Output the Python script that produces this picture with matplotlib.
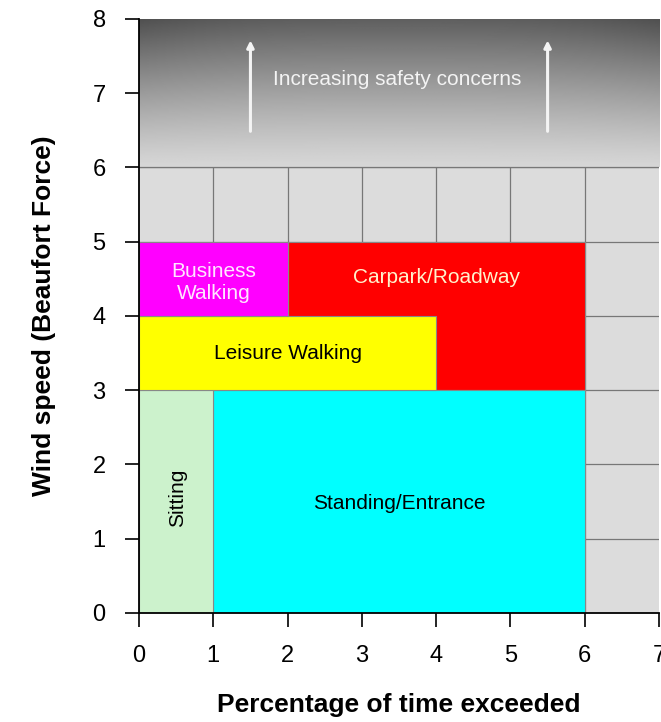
import matplotlib
matplotlib.use('Agg')
import matplotlib.pyplot as plt
import matplotlib.patches as patches
import numpy as np

plt.rcParams['font.family'] = ['Liberation Sans', 'DejaVu Sans']

# Comfort zones
zone_names = ['Carpark/Roadway', 'Standing/Entrance', 'Sitting', 'Leisure Walking', 'Business\nWalking']
zone_x0 = [2, 1, 0, 0, 0]
zone_x1 = [6, 6, 1, 4, 2]
zone_y0 = [3, 0, 0, 3, 4]
zone_y1 = [5, 3, 3, 4, 5]
zone_colors = ['#ff0000', '#00ffff', '#ccf2cc', '#ffff00', '#ff00ff']
label_colors = ['#fff2cc', 'black', 'black', 'black', '#ffe6ff']
label_x = [4.0, 3.5, 0.52, 2.0, 1.0]
label_y = [4.52, 1.48, 1.55, 3.5, 4.45]
label_rot = [0, 0, 90, 0, 0]

xticks = [0, 1, 2, 3, 4, 5, 6, 7]
yticks = [0, 1, 2, 3, 4, 5, 6, 7, 8]

fig = plt.figure(figsize=(6.61, 7.22), dpi=100)
ax = fig.add_axes([0.2103, 0.151, 0.7867, 0.8227])
ax.set_xlim(0, 7)
ax.set_ylim(0, 8)

# light grey cell background with grid
ax.set_facecolor('#dcdcdc')
for v in range(1, 7):
    ax.axvline(v, color='#777777', lw=0.9, zorder=0.5)
for h in range(1, 8):
    ax.axhline(h, color='#777777', lw=0.9, zorder=0.5)

# gradient band for high wind speeds (dark at top)
gy = np.linspace(0, 1, 200)[:, None]
gx = np.linspace(-1, 1, 300)[None, :]
grad = 0.84 - 0.47 * gy ** 1.2 - 0.06 * np.abs(gx) ** 3 * gy
ax.imshow(grad, extent=[0, 7, 6, 8], origin='lower', cmap='gray', vmin=0, vmax=1,
          aspect='auto', zorder=1, interpolation='bilinear')
ax.axhline(6, color='#777777', lw=0.9, zorder=1.2)

for xa in [1.5, 5.5]:
    ax.annotate('', xy=(xa, 7.75), xytext=(xa, 6.45),
                arrowprops=dict(arrowstyle='-|>', color='#f4f4f4', lw=2.2,
                                mutation_scale=10), zorder=3)
ax.text(3.47, 7.18, 'Increasing safety concerns', color='#f4f4f4', fontsize=15,
        ha='center', va='center', zorder=3)

for i in range(len(zone_names)):
    ax.add_patch(patches.Rectangle((zone_x0[i], zone_y0[i]), zone_x1[i] - zone_x0[i],
                                   zone_y1[i] - zone_y0[i], facecolor=zone_colors[i],
                                   edgecolor='#888888', lw=0.8, zorder=2))
    ax.text(label_x[i], label_y[i], zone_names[i], color=label_colors[i], fontsize=15,
            ha='center', va='center', rotation=label_rot[i], zorder=3, linespacing=1.2)

ax.set_xticks(xticks)
ax.set_yticks(yticks)
ax.tick_params(direction='out', length=10, width=1.2, labelsize=17)
ax.tick_params(axis='x', pad=13)
ax.tick_params(axis='y', pad=14)
for s in ['top', 'right']:
    ax.spines[s].set_visible(False)
for s in ['left', 'bottom']:
    ax.spines[s].set_linewidth(1.3)
ax.spines['left'].set_zorder(4)
ax.spines['bottom'].set_zorder(4)

ax.set_xlabel('Percentage of time exceeded', fontsize=19, fontweight='bold', labelpad=19)
ax.set_ylabel('Wind speed (Beaufort Force)', fontsize=19, fontweight='bold', labelpad=26)

fig.savefig('out.png', dpi=100)
